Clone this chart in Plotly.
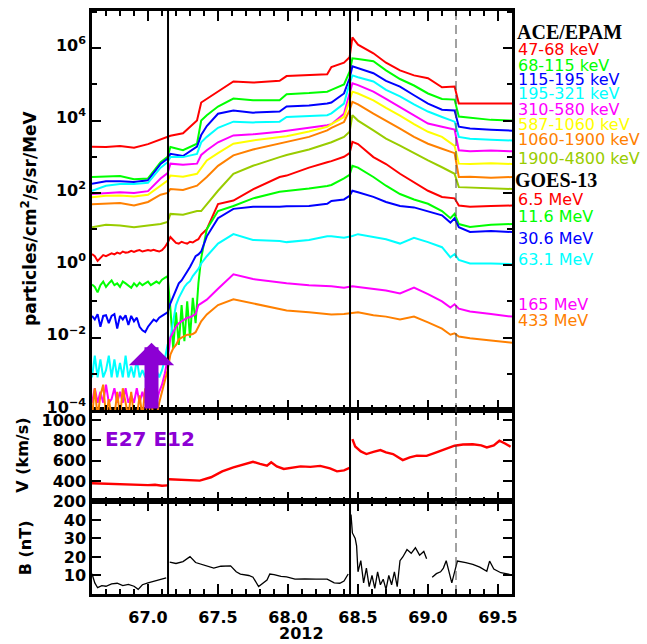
import numpy as np
import plotly.graph_objects as go

# ---------------- data ----------------
# ACE/EPAM channels: log10 flux on a common time grid (day of year 2012)
T_EPAM = [66.60, 66.70, 66.80, 66.90, 67.00, 67.09, 67.14, 67.16, 67.25, 67.35,
          67.38, 67.42, 67.50, 67.61, 67.75, 67.94, 67.99, 68.15, 68.28, 68.31,
          68.40, 68.44, 68.46, 68.50, 68.61, 68.70, 68.80, 68.90, 69.00, 69.10,
          69.19, 69.22, 69.30, 69.45, 69.60]
lg_47_68 = [3.28, 3.27, 3.30, 3.25, 3.35, 3.48, 3.55, 3.58, 3.65, 4.0,
            4.5, 4.6, 4.8, 5.08, 5.05, 5.1, 5.23, 5.25, 5.28, 5.48,
            5.6, 5.75, 6.3, 6.1, 5.86, 5.6, 5.39, 5.25, 5.17, 4.92,
            4.94, 4.47, 4.47, 4.45, 4.47]
lg_68_115 = [2.44, 2.45, 2.47, 2.38, 2.40, 2.85, 3.0, 3.27, 3.18, 3.36,
             4.0, 4.15, 4.39, 4.61, 4.56, 4.56, 4.73, 4.76, 4.8, 4.85,
             5.0, 5.35, 5.72, 5.7, 5.64, 5.39, 5.15, 4.97, 4.75, 4.6,
             4.58, 4.11, 4.08, 4.02, 4.0]
lg_115_195 = [2.25, 2.32, 2.32, 2.30, 2.35, 2.8, 2.95, 3.08, 3.02, 3.28,
              3.6, 3.85, 4.19, 4.28, 4.22, 4.25, 4.39, 4.42, 4.47, 4.5,
              4.75, 5.17, 5.5, 5.45, 5.31, 5.1, 4.94, 4.7, 4.47, 4.3,
              4.28, 3.83, 3.78, 3.75, 3.72]
lg_195_321 = [2.06, 2.2, 2.25, 2.25, 2.28, 2.7, 2.85, 2.99, 2.99, 3.08,
              3.4, 3.55, 3.8, 3.97, 3.95, 3.97, 4.1, 4.12, 4.15, 4.2,
              4.47, 5.03, 5.25, 5.2, 5.08, 4.85, 4.67, 4.45, 4.25, 4.1,
              3.97, 3.55, 3.5, 3.47, 3.45]
lg_310_580 = [1.97, 2.0, 2.02, 2.0, 2.05, 2.4, 2.55, 2.81, 2.78, 2.81,
              3.05, 3.18, 3.4, 3.59, 3.62, 3.69, 3.72, 3.8, 3.87, 3.9,
              4.19, 4.75, 5.03, 4.98, 4.8, 4.6, 4.38, 4.15, 3.92, 3.83,
              3.75, 3.18, 3.15, 3.17, 3.15]
lg_587_1060 = [1.88, 1.92, 1.93, 1.9, 1.95, 2.2, 2.34, 2.48, 2.45, 2.53,
               2.7, 2.9, 3.1, 3.36, 3.45, 3.55, 3.57, 3.7, 3.83, 3.9,
               4.1, 4.56, 4.8, 4.75, 4.56, 4.35, 4.14, 3.9, 3.69, 3.55,
               3.3, 2.81, 2.8, 2.82, 2.8]
lg_1060_1900 = [1.69, 1.7, 1.72, 1.65, 1.75, 1.95, 2.0, 2.11, 2.08, 2.2,
                2.3, 2.44, 2.75, 3.04, 3.2, 3.36, 3.4, 3.55, 3.73, 3.8,
                3.96, 4.29, 4.52, 4.45, 4.19, 4.0, 3.78, 3.55, 3.36, 3.22,
                3.1, 2.44, 2.45, 2.42, 2.44]
lg_1900_4800 = [1.05, 1.12, 1.1, 1.05, 1.1, 1.14, 1.2, 1.42, 1.4, 1.5,
                1.5, 1.69, 2.06, 2.53, 2.75, 2.99, 3.05, 3.2, 3.36, 3.4,
                3.55, 3.69, 4.15, 4.0, 3.73, 3.5, 3.31, 3.1, 2.9, 2.71,
                2.53, 2.16, 2.15, 2.12, 2.11]

# GOES-13 channels: pre-event grid and post-shock grid
T_PRE = [66.60, 66.62, 66.64, 66.66, 66.68, 66.70, 66.72, 66.74, 66.76, 66.78,
         66.80, 66.82, 66.84, 66.86, 66.88, 66.90, 66.92, 66.94, 66.96, 66.98,
         67.00, 67.02, 67.04, 67.06, 67.08, 67.10, 67.12, 67.14]
T_POST = [67.16, 67.18, 67.20, 67.22, 67.24, 67.26, 67.28, 67.30, 67.32, 67.34,
          67.36, 67.38, 67.42, 67.50, 67.61, 67.75, 67.94, 67.99, 68.15, 68.28,
          68.31, 68.40, 68.44, 68.46, 68.50, 68.61, 68.70, 68.80, 68.90, 69.00,
          69.10, 69.16, 69.19, 69.22, 69.30, 69.45, 69.60]
g065_pre = [0.31, 0.25, 0.12, 0.2, 0.28, 0.25, 0.3, 0.33, 0.3, 0.35,
            0.32, 0.38, 0.35, 0.36, 0.4, 0.37, 0.4, 0.42, 0.38, 0.4,
            0.42, 0.4, 0.43, 0.4, 0.38, 0.42, 0.5, 0.62]
g065_post = [0.78, 0.7, 0.62, 0.6, 0.65, 0.62, 0.6, 0.65, 0.63, 0.68,
             0.72, 0.85, 1.0, 1.69, 1.79, 2.1, 2.44, 2.48, 2.7, 2.85,
             2.88, 3.0, 3.1, 3.41, 3.35, 2.99, 2.8, 2.53, 2.3, 2.06,
             1.89, 1.87, 1.85, 1.65, 1.62, 1.64, 1.65]
g116_pre = [-0.53, -0.6, -0.75, -0.55, -0.45, -0.6, -0.5, -0.42, -0.55, -0.5,
            -0.6, -0.45, -0.5, -0.55, -0.62, -0.5, -0.58, -0.48, -0.55, -0.5,
            -0.45, -0.55, -0.5, -0.45, -0.5, -0.4, -0.35, -0.3]
g116_post = [-1.2, -2.3, -1.3, -2.2, -1.1, -2.1, -1.0, -2.0, -0.9, -1.6,
             -0.5, 0.2, 1.0, 1.5, 1.64, 1.85, 2.03, 2.05, 2.12, 2.19,
             2.22, 2.4, 2.5, 2.75, 2.7, 2.44, 2.2, 1.97, 1.82, 1.7,
             1.5, 1.3, 1.42, 1.14, 1.06, 1.12, 1.14]
g306_pre = [-1.4, -1.5, -1.35, -1.7, -1.4, -1.38, -1.6, -1.4, -1.35, -1.75,
            -1.4, -1.5, -1.38, -1.65, -1.4, -1.55, -1.45, -1.7, -1.8, -1.85,
            -1.7, -1.6, -1.5, -1.55, -1.45, -1.4, -1.35, -1.3]
g306_post = [-1.05, -0.85, -0.7, -0.5, -0.42, -0.3, -0.17, -0.05, 0.1, 0.25,
             0.3, 0.38, 0.8, 1.3, 1.56, 1.62, 1.62, 1.63, 1.64, 1.7,
             1.78, 1.82, 1.92, 2.06, 2.02, 1.89, 1.75, 1.64, 1.6, 1.5,
             1.38, 1.18, 1.3, 1.05, 0.92, 0.95, 0.92]
g631_pre = [-3.1, -2.5, -3.1, -2.6, -3.1, -2.9, -2.5, -3.1, -2.6, -3.1,
            -2.7, -3.1, -2.5, -3.1, -2.8, -3.1, -2.6, -3.1, -2.9, -3.1,
            -2.7, -3.1, -3.1, -2.9, -3.1, -2.9, -2.6, -2.2]
g631_post = [-2.0, -1.5, -1.1, -0.9, -0.75, -0.6, -0.5, -0.44, -0.3, -0.2,
             -0.1, 0.05, 0.25, 0.6, 0.86, 0.7, 0.67, 0.64, 0.7, 0.8,
             0.8, 0.76, 0.78, 0.81, 0.86, 0.78, 0.72, 0.6, 0.76, 0.64,
             0.5, 0.22, 0.31, 0.15, 0.05, 0.05, 0.03]
g165_pre = [-3.8, -3.4, -3.8, -3.5, -3.8, -3.3, -3.8, -3.7, -3.4, -3.8,
            -3.5, -3.8, -3.4, -3.8, -3.6, -3.8, -3.4, -3.8, -3.5, -3.8,
            -3.6, -3.8, -3.7, -3.8, -3.5, -3.3, -3.0, -2.6]
g165_post = [-2.0, -1.85, -1.7, -1.6, -1.55, -1.5, -1.45, -1.44, -1.4, -1.35,
             -1.1, -1.05, -0.95, -0.65, -0.25, -0.38, -0.47, -0.5, -0.55, -0.57,
             -0.58, -0.62, -0.6, -0.58, -0.6, -0.65, -0.7, -0.78, -0.62, -0.8,
             -1.0, -1.17, -1.08, -1.2, -1.28, -1.35, -1.42]
g433_pre = [-4.2, -3.4, -4.2, -3.6, -3.3, -4.2, -3.7, -4.2, -4.2, -3.5,
            -4.2, -3.4, -3.8, -4.2, -3.5, -4.2, -4.2, -3.6, -4.2, -3.4,
            -4.2, -3.7, -4.2, -4.2, -3.8, -3.5, -3.2, -2.9]
g433_post = [-2.47, -2.3, -2.2, -2.05, -2.0, -1.95, -1.92, -1.92, -1.9, -1.85,
             -1.7, -1.55, -1.36, -1.1, -0.94, -1.05, -1.22, -1.25, -1.3, -1.36,
             -1.36, -1.35, -1.33, -1.31, -1.3, -1.38, -1.42, -1.5, -1.42, -1.58,
             -1.75, -1.92, -1.88, -1.97, -2.02, -2.08, -2.14]

# Solar wind speed (km/s)
T_V = [66.60, 66.70, 66.80, 66.90, 67.00, 67.05, 67.10, 67.14, 67.145, 67.15,
       67.25, 67.37, 67.45, 67.53, 67.61, 67.68, 67.75, 67.80, 67.85, 67.88,
       67.92, 67.97, 68.03, 68.09, 68.16, 68.23, 68.30, 68.35, 68.40, 68.44,
       68.445, 68.46, 68.48, 68.52, 68.56, 68.61, 68.66, 68.70, 68.75, 68.82,
       68.87, 68.92, 68.99, 69.05, 69.09, 69.14, 69.19, 69.25, 69.32, 69.38,
       69.42, 69.47, 69.51, 69.55, 69.59]
V = [379, 374, 369, 367, 361, 364, 355, 358, None, 418,
     413, 405, 438, 496, 535, 560, 590, 570, 552, 585,
     545, 520, 531, 545, 540, 550, 526, 496, 506, 530,
     None, 813, 741, 692, 666, 687, 705, 682, 666, 607,
     633, 650, 648, 677, 699, 721, 748, 760, 763, 751,
     731, 751, 797, 770, 738]

# Magnetic field magnitude (nT)
T_B = [66.60, 66.62, 66.64, 66.67, 66.70, 66.74, 66.78, 66.82, 66.86, 66.90,
       66.93, 66.96, 67.00, 67.04, 67.08, 67.13, 67.14, 67.155, 67.20, 67.25,
       67.30, 67.34, 67.38, 67.42, 67.47, 67.52, 67.59, 67.63, 67.66, 67.72,
       67.75, 67.79, 67.82, 67.85, 67.87, 67.90, 67.95, 67.99, 68.05, 68.12,
       68.20, 68.28, 68.33, 68.37, 68.40, 68.43, 68.44, 68.45, 68.46, 68.48,
       68.49, 68.50, 68.52, 68.54, 68.56, 68.58, 68.60, 68.62, 68.64, 68.66,
       68.68, 68.70, 68.72, 68.74, 68.76, 68.78, 68.80, 68.82, 68.85, 68.88,
       68.91, 68.94, 68.97, 68.99, 69.01, 69.03, 69.06, 69.09, 69.11, 69.13,
       69.15, 69.17, 69.19, 69.21, 69.27, 69.32, 69.37, 69.42, 69.44, 69.47,
       69.52, 69.59]
B = [11, 6, 3.4, 4.5, 4.2, 5.5, 5.8, 4.5, 5.2, 4.2,
     2.5, 5.0, 6.0, 6.9, 7.5, 8.7, None, 17.2, 16.5, 17.5,
     20.2, 17, 16, 15.2, 14, 15, 15.2, 12, 10.8, 10,
     9.1, 4, 6, 7.5, 10.8, 10.5, 9.5, 9.2, 8.0, 8.2,
     8.0, 8.0, 6.0, 5.8, 7.0, 10.8, None, 43, 33, 30,
     26, 12, 18, 6, 14, 4, 10, 3, 12, 5,
     8, 2.5, 10, 5, 12, 4, 18, 20, 24, 22,
     25, 21, 23, 19, None, 9, 11, 12, 14, 18,
     12, 6, 12, 17.8, 17, 16, 14.5, 12.3, 17.8, 13.5,
     11.5, 10.5]

SOLID_LINES = [67.143, 68.443]
DASHED_LINE = 69.2
ARROW_TIME = 67.025

EPAM_LABELS = ["47-68 keV", "68-115 keV", "115-195 keV", "195-321 keV",
               "310-580 keV", "587-1060 keV", "1060-1900 keV", "1900-4800 keV"]
GOES_LABELS = ["6.5 MeV", "11.6 MeV", "30.6 MeV", "63.1 MeV", "165 MeV", "433 MeV"]

EPAM_COLORS = ["#ff0000", "#00ff00", "#0000ff", "#00ffff", "#ff00ff",
               "#ffff00", "#ff8000", "#99cc00"]
GOES_COLORS = ["#ff0000", "#00ff00", "#0000ff", "#00ffff", "#ff00ff", "#ff8000"]
PURPLE = "#8c00d4"

# ---------------- figure ----------------
fig = go.Figure()

epam_series = [lg_47_68, lg_68_115, lg_115_195, lg_195_321,
               lg_310_580, lg_587_1060, lg_1060_1900, lg_1900_4800]
for lab, col, s in zip(EPAM_LABELS, EPAM_COLORS, epam_series):
    fig.add_trace(go.Scatter(x=T_EPAM, y=10 ** np.array(s), mode="lines",
                             line=dict(color=col, width=2), name=lab,
                             xaxis="x3", yaxis="y3", showlegend=False))

goes_series = [(g065_pre, g065_post), (g116_pre, g116_post), (g306_pre, g306_post),
               (g631_pre, g631_post), (g165_pre, g165_post), (g433_pre, g433_post)]
for lab, col, (pre, post) in zip(GOES_LABELS, GOES_COLORS, goes_series):
    t = T_PRE + T_POST
    v = 10 ** np.array(pre + post)
    fig.add_trace(go.Scatter(x=t, y=v, mode="lines",
                             line=dict(color=col, width=2), name=lab,
                             xaxis="x3", yaxis="y3", showlegend=False))

fig.add_trace(go.Scatter(x=T_V, y=V, mode="lines", line=dict(color="#ff0000", width=2.4),
                         xaxis="x2", yaxis="y2", showlegend=False, name="V"))
fig.add_trace(go.Scatter(x=T_B, y=B, mode="lines", line=dict(color="black", width=1.3),
                         xaxis="x", yaxis="y", showlegend=False, name="B"))

FONT = "DejaVu Sans"
tickfont = dict(family=FONT, size=16, color="black", weight="bold")

def xax(show_labels, anchor):
    d = dict(range=[66.6, 69.6], anchor=anchor, showline=True, linewidth=2.5,
             linecolor="black", mirror="allticks", ticks="inside", ticklen=10,
             tickwidth=2, tickcolor="black", tick0=67.0, dtick=0.5,
             showgrid=False, zeroline=False, tickformat=".1f",
             showticklabels=show_labels, tickfont=tickfont,
             minor=dict(dtick=0.1, tick0=67.0, ticks="inside", ticklen=5,
                        tickwidth=2, tickcolor="black", showgrid=False))
    if show_labels:
        d["ticklabelstandoff"] = 7
    else:
        d["matches"] = "x"
    return d

yb0 = 93 / 586
yv0 = 185 / 586

fig.update_layout(
    width=647, height=644, autosize=False,
    margin=dict(l=92, r=135, t=8, b=50),
    paper_bgcolor="white", plot_bgcolor="white",
    xaxis=xax(True, "y"),
    xaxis2=xax(False, "y2"),
    xaxis3=xax(False, "y3"),
    yaxis=dict(domain=[0, yb0], range=[0, 50], anchor="x", tickvals=[10, 20, 30, 40],
               showline=True, linewidth=2.5, linecolor="black", mirror="allticks",
               ticks="inside", ticklen=9, tickwidth=2, tickcolor="black",
               showgrid=False, zeroline=False, tickfont=tickfont),
    yaxis2=dict(domain=[yb0, yv0], range=[200, 1100], anchor="x2",
                tickvals=[200, 400, 600, 800, 1000],
                showline=True, linewidth=2.5, linecolor="black", mirror="allticks",
                ticks="inside", ticklen=9, tickwidth=2, tickcolor="black",
                showgrid=False, zeroline=False, tickfont=tickfont),
    yaxis3=dict(domain=[yv0, 1], type="log", range=[-4, 7.03], anchor="x3",
                tickvals=[1e-4, 1e-2, 1, 1e2, 1e4, 1e6],
                ticktext=["10<sup>−4</sup>", "10<sup>−2</sup>", "10<sup>0</sup>",
                          "10<sup>2</sup>", "10<sup>4</sup>", "10<sup>6</sup>"],
                ticklabelshift=-3,
                showline=True, linewidth=2.5, linecolor="black", mirror="allticks",
                ticks="inside", ticklen=9, tickwidth=2, tickcolor="black",
                showgrid=False, zeroline=False, tickfont=tickfont,
                minor=dict(tickmode="array", tickvals=[1e-3, 1e-1, 10, 1e3, 1e5, 1e7],
                           ticks="inside", ticklen=5, tickwidth=2, tickcolor="black",
                           showgrid=False)),
)

shapes = []
for t in SOLID_LINES:
    shapes.append(dict(type="line", xref="x", yref="paper", x0=t, x1=t, y0=0, y1=1,
                       line=dict(color="black", width=2), layer="above"))
shapes.append(dict(type="line", xref="x", yref="paper", x0=DASHED_LINE, x1=DASHED_LINE,
                   y0=0, y1=1, line=dict(color="#444444", width=1, dash="9px,5px"),
                   layer="above"))
fig.update_layout(shapes=shapes)

ann = []
def py(pix):
    return (594 - pix) / 586

ann.append(dict(text="ACE/EPAM", xref="paper", yref="paper", x=1, xshift=3, y=py(29),
                xanchor="left", yanchor="middle", showarrow=False,
                font=dict(family="Liberation Serif", size=20, color="black", weight="bold")))
epam_y = [47, 63, 77, 91, 107, 122, 137, 156]
for lab, col, yy in zip(EPAM_LABELS, EPAM_COLORS, epam_y):
    ann.append(dict(text=lab, xref="paper", yref="paper", x=1, xshift=4, y=py(yy),
                    xanchor="left", yanchor="middle", showarrow=False,
                    font=dict(family=FONT, size=16, color=col)))
ann.append(dict(text="GOES-13", xref="paper", yref="paper", x=1, xshift=1, y=py(178),
                xanchor="left", yanchor="middle", showarrow=False,
                font=dict(family="Liberation Serif", size=20, color="black", weight="bold")))
goes_y = [197, 215, 237, 258, 303, 319]
for lab, col, yy in zip(GOES_LABELS, GOES_COLORS, goes_y):
    ann.append(dict(text=lab, xref="paper", yref="paper", x=1, xshift=4, y=py(yy),
                    xanchor="left", yanchor="middle", showarrow=False,
                    font=dict(family=FONT, size=16, color=col)))

# axis titles
ann.append(dict(text="particles/cm<sup>2</sup>/s/sr/MeV", xref="paper", yref="paper",
                x=0, xshift=-63, y=py(216), textangle=-90, showarrow=False,
                xanchor="center", yanchor="middle",
                font=dict(family=FONT, size=17, color="black", weight="bold")))
ann.append(dict(text="V (km/s)", xref="paper", yref="paper", x=0, xshift=-69, y=py(455),
                textangle=-90, showarrow=False, xanchor="center", yanchor="middle",
                font=dict(family=FONT, size=16, color="black", weight="bold")))
ann.append(dict(text="B (nT)", xref="paper", yref="paper", x=0, xshift=-67, y=py(548),
                textangle=-90, showarrow=False, xanchor="center", yanchor="middle",
                font=dict(family=FONT, size=16, color="black", weight="bold")))
ann.append(dict(text="2012", xref="paper", yref="paper", x=(301 - 92) / 420, y=py(634),
                showarrow=False, xanchor="center", yanchor="middle",
                font=dict(family=FONT, size=16, color="black", weight="bold")))

# event label and arrow
ann.append(dict(text="E27 E12", xref="paper", yref="paper", x=(150 - 92) / 420, y=py(438),
                showarrow=False, xanchor="center", yanchor="middle",
                font=dict(family=FONT, size=20, color=PURPLE, weight="bold")))
ann.append(dict(text="", x=ARROW_TIME, y=-2.14, xref="x3", yref="y3",
                ax=ARROW_TIME, ay=-4.0, axref="x3", ayref="y3",
                showarrow=True, arrowhead=1, arrowsize=0.54, arrowwidth=14,
                arrowcolor=PURPLE, standoff=0, startstandoff=0))
fig.update_layout(annotations=ann)

fig.write_html("out.html", config={"displayModeBar": False},
               post_script="document.body.style.margin='0';")
